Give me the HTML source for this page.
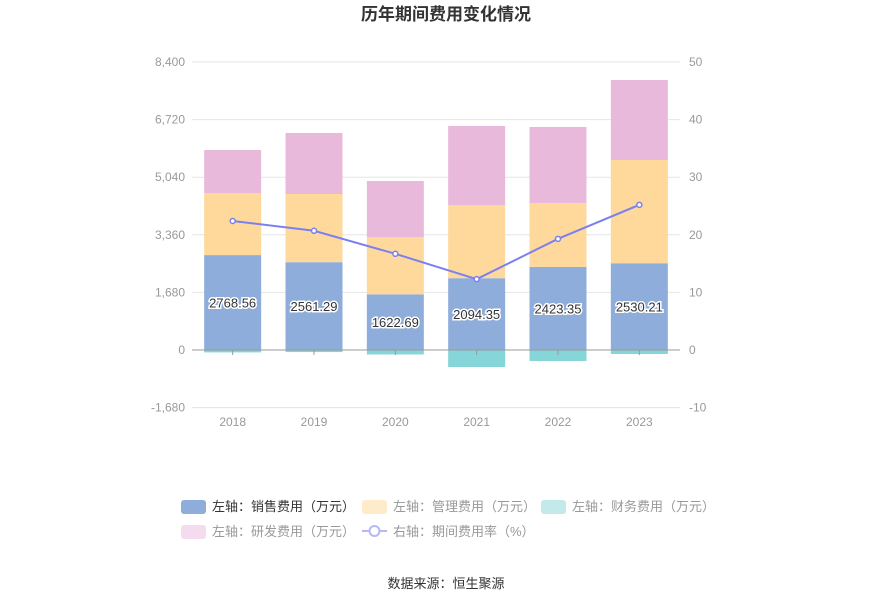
<!DOCTYPE html>
<html><head><meta charset="utf-8"><style>
body{margin:0;background:#fff;width:893px;height:603px;overflow:hidden;font-family:"Liberation Sans","Noto Sans CJK SC",sans-serif}
svg text{font-family:"Liberation Sans","Noto Sans CJK SC",sans-serif}
</style></head><body>
<svg id="c" width="893" height="603"></svg>
<script>
const years=["2018","2019","2020","2021","2022","2023"];
const sales=[2768.56,2561.29,1622.69,2094.35,2423.35,2530.21];
const admin=[1810,1989,1673,2135,1865,3012];
const finance=[-70,-60,-130,-496,-320,-117];
const rd=[1254,1779,1633,2304,2216,2333];
const rate=[22.4,20.7,16.7,12.3,19.3,25.2];
const leftTicks=[8400,6720,5040,3360,1680,0,-1680];
const rightTicks=[50,40,30,20,10,0,-10];
const NS="http://www.w3.org/2000/svg";
const svg=document.getElementById('c');
function el(t,a,p){const e=document.createElementNS(NS,t);for(const k in a)e.setAttribute(k,a[k]);(p||svg).appendChild(e);return e;}
const x0=192,x1=680,yTop=62,yZero=350,pxPer=57.6/1680;
const yL=v=>yZero-v*pxPer;
const yR=v=>yZero-v*5.76;
const bw=(x1-x0)/years.length;
const xc=i=>x0+bw*(i+0.5);
let t=el('text',{x:446,y:20,'text-anchor':'middle','font-size':17,'font-weight':'bold',fill:'#333'});t.textContent='历年期间费用变化情况';


leftTicks.forEach((v,i)=>{
 const y=yL(v);
 if(v!==0){const g=el('line',{x1:x0,x2:x1,y1:y,y2:y,stroke:v===-1680?'#e0e0f0':'#e6e6e6'});}
 const l=el('text',{x:185,y:y+4,'text-anchor':'end','font-size':12,fill:'#999'});l.textContent=v.toLocaleString('en-US');
 
 
});
rightTicks.forEach(v=>{
 const l=el('text',{x:689,y:yR(v)+4,'font-size':12,fill:'#999'});l.textContent=v;
 
 
});
years.forEach((yr,i)=>{
 const cx=xc(i),w=57,x=cx-w/2;
 const s=el('rect',{x:x,y:yL(sales[i]),width:w,height:sales[i]*pxPer,fill:'#8eaddb'});
 
 const a=el('rect',{x:x,y:yL(sales[i]+admin[i]),width:w,height:admin[i]*pxPer,fill:'#fed99b'});
 
 const r=el('rect',{x:x,y:yL(sales[i]+admin[i]+rd[i]),width:w,height:rd[i]*pxPer,fill:'#e8b9da'});
 
 const f=el('rect',{x:x,y:yZero,width:w,height:-finance[i]*pxPer,fill:'#86d5d8'});
 
 const lb=el('text',{x:cx,y:(yL(sales[i])+yZero)/2+5,'text-anchor':'middle','font-size':13,fill:'#333',stroke:'#fff','stroke-width':3,'paint-order':'stroke'});
 lb.textContent=sales[i].toFixed(2);
 
 const xl=el('text',{x:cx,y:426,'text-anchor':'middle','font-size':12,fill:'#999'});xl.textContent=yr;
 
 el('line',{x1:cx,x2:cx,y1:yZero,y2:yZero+5,stroke:'#999'});
});
const z=el('line',{x1:x0,x2:x1,y1:yZero,y2:yZero,stroke:'#999'});

const pts=rate.map((v,i)=>xc(i)+','+yR(v)).join(' ');
const pl=el('polyline',{points:pts,fill:'none',stroke:'#7b80f0','stroke-width':2});

rate.forEach((v,i)=>{const c=el('circle',{cx:xc(i),cy:yR(v),r:2.5,fill:'#fff',stroke:'#7b80f0','stroke-width':1.5});
 });
const leg=[["左轴：销售费用（万元）",'#8eaddb',181,506,'#333'],["左轴：管理费用（万元）",'#feebc9',362,506,'#999'],["左轴：财务费用（万元）",'#c2eaea',541,506,'#999'],["左轴：研发费用（万元）",'#f4dbee',181,531,'#999']];
leg.forEach(l=>{
 const g=el('g',{});
 el('rect',{x:l[2],y:l[3]-6,width:25,height:14,rx:3,fill:l[1]},g);
 const tx=el('text',{x:l[2]+31,y:l[3]+5,'font-size':13,fill:l[4]},g);tx.textContent=l[0];
});
const g=el('g',{});
el('line',{x1:362,x2:387,y1:531,y2:531,stroke:'#b6b8f5','stroke-width':2},g);
el('circle',{cx:374.5,cy:531,r:5,fill:'#fff',stroke:'#b6b8f5','stroke-width':2},g);
const tx=el('text',{x:393,y:536,'font-size':13,fill:'#999'},g);tx.textContent='右轴：期间费用率（%）';
const src=el('text',{x:446,y:588,'text-anchor':'middle','font-size':13,fill:'#333'});src.textContent='数据来源：恒生聚源';

</script>
</body></html>
